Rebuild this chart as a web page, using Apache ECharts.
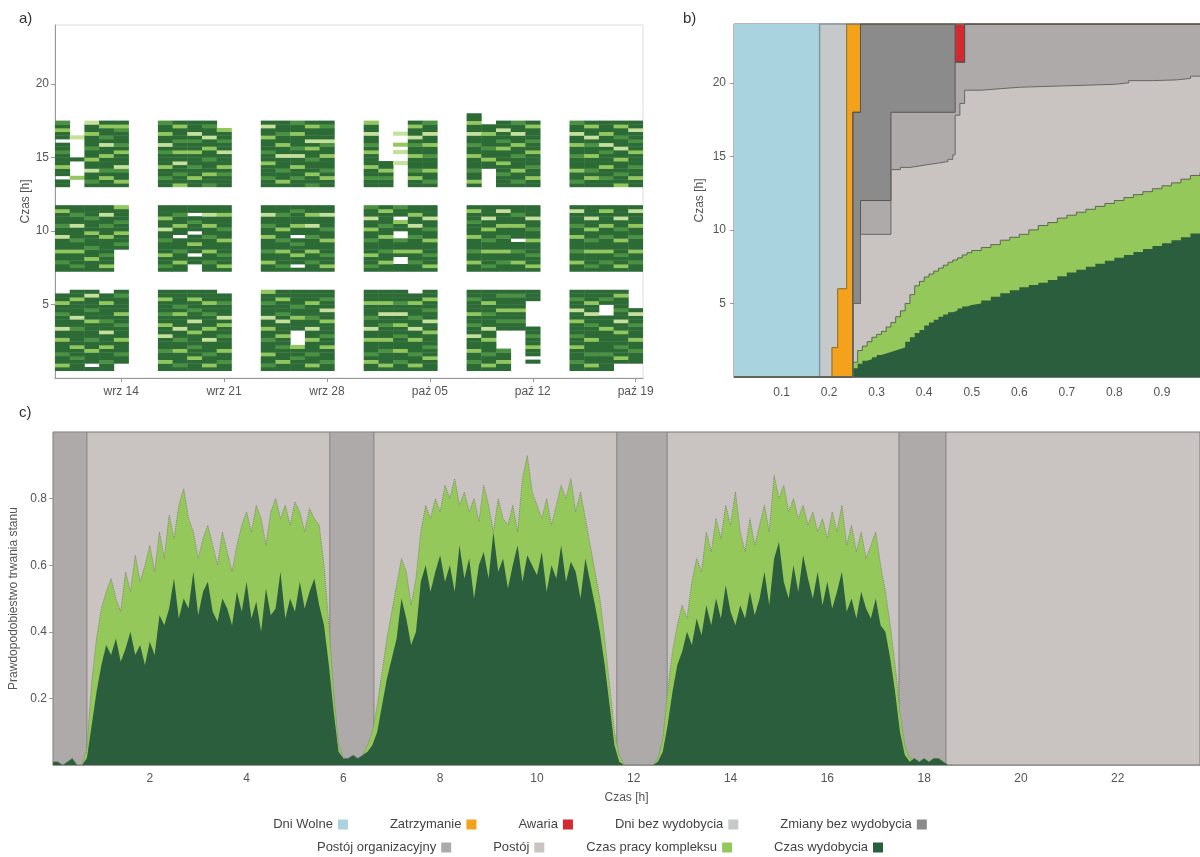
<!doctype html>
<html>
<head>
<meta charset="utf-8">
<script src="https://cdn.jsdelivr.net/npm/echarts@6/dist/echarts.min.js"></script>
<style>
  html, body { margin: 0; padding: 0; background: #fff; }
  #chart { width: 1200px; height: 857px; }
</style>
</head>
<body>
<div id="chart"></div>
<script>
  // ---------- a) harmonogram zmian: dzien (od 10 wrz) x godzina ----------
  var aDays = [0, 1, 2, 3, 4, 7, 8, 9, 10, 11, 14, 15, 16, 17, 18, 21, 22, 23, 24, 25, 28, 29, 30, 31, 32, 35, 36, 37, 38, 39];
  var aShiftStart = [0.5, 7.25, 13.0]; // poczatek kazdej zmiany [h]
  var aSlot = 0.25;                     // jeden znak = 15 min
  // D ciemny, G sredni, L jasny, P blady, . brak
  var aShift1 = [
    'DLDDGDDDLDDPDDDGDDLDD', 'DDDGDDLDDDDGDDPDDDDLDD', 'D.DDDLDDGDDDDLDDGDDDPD', 'DDGDDDLDDDPDDGDDDDLDD.', '..DDGDDDLDDDGDDLDDDDGD',
    'DDLDDGDDDPDDLDDGDDDLDD', 'DGDDDLDDGDDPDDDLDGDDDD', 'DDDLDDGDDDLDDPDDGDDLDD', 'DLDDGDDDPDDLDDDGDDLDDD', 'DDGDDLDDDGDDLDPDDDGDD.',
    'DGDDLDDDGDDLDDPDDDGDDL', 'DDLDDDGDDLDDDPDGDDDLDD', 'DDDGDDL....DDDLDDGDDDD', 'DLDDGDDDLDDPDDGDDDLDDD', 'DDGDDDLDDGDDDLDDPDDGDD',
    'DDLDGDDDLDDPDDGDDDLDDD', 'DLDDDGDDLDDDGDDPDDLDDD', 'DDGDDLDDDGDDLDDPDDGDDD', 'DLDDGDDDLDDPDDGDDDLDD.', 'DDDLDDGDDDLDDPDDGDDLDD',
    'DDGDDLDDDPDDGDDLDDDGDD', 'DLDDGDDDLDDPDDDGDDLDDD', 'DDLDDG.....DDGDDLDDDGD', '...........DDGDDLDDDGD', '..D.DDLDDGDD.......DDD',
    'DDGDDDLDDGDDDLDDPDDGDD', 'DLDDGDDDLDDDGDDPDDLDDD', 'DDDDGDDDDDDLDDD...DGDD', '..DLDDGDDDLDDPDDGDDDLD', '..DDDGDDLDDDGDDPD.....'
  ];
  var aShift2 = [
    'DDGDDLDDDPDDGDDDLD', 'DGDDDLDDGDDDPDDGDD', 'DDDLDDGDDDLDDDGDDD', 'DLDDGDDDDLDDGDDPDD', '......DGDDLDDGDDDL',
    'DGDDLDDDGDDPDDLDDD', 'DDLDDGDDD.DDLDDGDD', '..DD.DDLDD.DDGD.DD', 'DDGDDLDDDGDDLDDPDD', 'DLDDGDDDLDDGDDDLDD',
    'DDLDDGDDDLDDGDDPDD', 'DGDDDLDDGDDLDDDGDD', 'D.DDLDDGD.DDLDDDGD', 'DDGDDLDDDGDDPDDLDD', 'DLDDGDDDLDDGDDDPDD',
    'DGDDLDDDGDDLDDPDDG', 'DDLDDGDDDLDDGDDDLD', 'DD..DLDDG..DDL.DDG', 'DDGDDLDDDGDDPDDLDD', 'DLDDGDDDLDDGDDPDDD',
    'DDLDDGDDDLDDDGDDLD', 'DGDDDLDDGDDLDDPDDD', 'DDGDDLDDDGDDLDDDPD', 'DDLDDGDD.DDDLDDGDD', 'DLDDGDDDLDDGDDPDDD',
    'DDLDDGDDDLDDGDDDPD', 'DGDDDLDDGDDLDDPDDD', 'DDGDDLDDDGDDLDDDLD', 'DLDDGDDDLDDGDDPDDD', 'DDGDDLDDDGDDLDDDPD'
  ];
  var aShift3 = [
    'DD.DDLDDDGDD.DDLDG', '..L....D.....P....', 'DGDDPDDLDDGDDDLDDP', 'DDLDGDDDLDDPDGDDLD', 'DLDDGPDDDLDGDDDGLD',
    'DDGDDLDDDGDPDDLDDG', 'LDDGDDPDDLDDGDDDLD', 'DDLDDGDDDLDDGDPDDD', 'GDDLDDDGDDLDDPDDGD', 'DDDGDLDDDPDDGDDL..',
    'DDGDDDLDDGDDDLDDPD', 'DLDDGDDDPDDLDDGDDD', 'DDGDDLDDPDGDDDLDDG', 'GDDLDDDGDDLDPDDDLD', 'DDLDGDDDLDDGPDDDGD',
    'DDGDDLDDDLDGDDPDDL', 'DDGDLDD...........', '......P..P.L..P...', 'DDLDGDDDLDDGDPDDLD', 'DGDDLDDDGDDLDDPDDG',
    'DLDDGDDDLDDGDDPDDLDD', '.....DDLDDGDDDLDD.', 'DDDGDDLDDDLDGDDPDD', 'DGDDLDDDGDDLDDPDDG', 'DDLDDGDDDLDDGDDDLD',
    'DGDDLDDDGDDLDDPDDG', 'DDLDGDDDLDDGDPDDLD', 'DDGDDLDDDGDPDDLDDD', 'LDDGDDDLDDPDDGDDLD', 'DDLDDGDDDLDDGDDPDD'
  ];
  var aTickDays = [4, 11, 18, 25, 32, 39];
  var aTickLabels = ['wrz 14', 'wrz 21', 'wrz 28', 'paź 05', 'paź 12', 'paź 19'];

  // ---------- b) skumulowane godziny stanow wg udzialu dni [x, gorna granica h] ----------
  var bWolne = [[0, 24], [0.98, 24]];
  var bDniBez = [[0, 0], [0.18, 24], [0.98, 24]];
  var bZatrzymanie = [[0, 0], [0.206, 2], [0.218, 6], [0.237, 24], [0.98, 24]];
  var bAwaria = [[0, 0], [0.25, 18], [0.266, 24], [0.98, 24]];
  var bZmianyBez = [[0, 0], [0.25, 18], [0.266, 24], [0.465, 21.4], [0.485, 24], [0.98, 24]];
  var bPostojOrg = [[0, 0], [0.25, 5], [0.266, 12], [0.33, 18], [0.465, 21.4], [0.485, 24], [0.98, 24]];
  var bPostoj = [[0, 0], [0.25, 5], [0.266, 9.7], [0.33, 14.1], [0.35, 14.25], [0.37, 14.35], [0.39, 14.45],
    [0.41, 14.55], [0.43, 14.65], [0.45, 14.8], [0.46, 15.1], [0.465, 17.8], [0.475, 18.6], [0.485, 19.5],
    [0.52, 19.6], [0.56, 19.7], [0.6, 19.75], [0.65, 19.8], [0.7, 19.85], [0.75, 19.9], [0.8, 20.0],
    [0.83, 20.15], [0.88, 20.2], [0.93, 20.3], [0.96, 20.45], [0.98, 20.45]];
  var bPraca = [[0, 0], [0.25, 1.0], [0.26, 1.8], [0.27, 2.1], [0.28, 2.4], [0.29, 2.7], [0.30, 2.9], [0.31, 3.1],
    [0.32, 3.4], [0.33, 3.7], [0.34, 4.1], [0.35, 4.5], [0.36, 5.0], [0.37, 5.6], [0.38, 6.2], [0.39, 6.5],
    [0.40, 6.8], [0.41, 7.0], [0.42, 7.2], [0.43, 7.4], [0.44, 7.6], [0.45, 7.8], [0.46, 7.95], [0.47, 8.1],
    [0.48, 8.3], [0.49, 8.45], [0.50, 8.6], [0.52, 8.8], [0.54, 9.0], [0.56, 9.3], [0.58, 9.5], [0.60, 9.7],
    [0.62, 10.0], [0.64, 10.3], [0.66, 10.5], [0.68, 10.8], [0.70, 11.0], [0.72, 11.2], [0.74, 11.4],
    [0.76, 11.6], [0.78, 11.8], [0.80, 12.0], [0.82, 12.2], [0.84, 12.4], [0.86, 12.6], [0.88, 12.8],
    [0.90, 13.0], [0.92, 13.2], [0.94, 13.45], [0.96, 13.7], [0.98, 13.9]];
  var bWydobycie = [[0, 0], [0.25, 0.6], [0.26, 0.9], [0.27, 1.1], [0.28, 1.2], [0.29, 1.35], [0.30, 1.5],
    [0.31, 1.6], [0.32, 1.7], [0.33, 1.8], [0.34, 1.9], [0.35, 2.0], [0.36, 2.4], [0.37, 2.7], [0.38, 3.0],
    [0.39, 3.2], [0.40, 3.5], [0.41, 3.7], [0.42, 3.9], [0.43, 4.1], [0.44, 4.25], [0.45, 4.4], [0.46, 4.5],
    [0.47, 4.65], [0.48, 4.8], [0.49, 4.9], [0.50, 5.0], [0.52, 5.2], [0.54, 5.45], [0.56, 5.7], [0.58, 5.9],
    [0.60, 6.1], [0.62, 6.25], [0.64, 6.4], [0.66, 6.6], [0.68, 6.85], [0.70, 7.1], [0.72, 7.3], [0.74, 7.5],
    [0.76, 7.7], [0.78, 7.9], [0.80, 8.1], [0.82, 8.3], [0.84, 8.5], [0.86, 8.7], [0.88, 8.9], [0.90, 9.1],
    [0.92, 9.3], [0.94, 9.5], [0.96, 9.75], [0.98, 10.0]];

  // ---------- c) prawdopodobienstwo stanu wg godziny doby (co 0.1 h od 0.0) ----------
  var cStep = 0.1;
  var cWydobycie = [
    0.01, 0.01, 0.0, 0.01, 0.02, 0.0,
    0.0, 0.02, 0.12, 0.22, 0.30, 0.36, 0.33, 0.38, 0.31, 0.35, 0.40, 0.33, 0.36, 0.30,
    0.37, 0.33, 0.45, 0.42, 0.47, 0.56, 0.44, 0.50, 0.47, 0.58,
    0.45, 0.52, 0.55, 0.46, 0.43, 0.50, 0.47, 0.42, 0.52, 0.46,
    0.55, 0.44, 0.49, 0.40, 0.53, 0.45, 0.47, 0.58, 0.44, 0.50,
    0.46, 0.55, 0.47, 0.52, 0.56, 0.48, 0.42, 0.30, 0.16, 0.04,
    0.02, 0.02, 0.03, 0.02, 0.03, 0.04, 0.06, 0.10, 0.18, 0.26,
    0.32, 0.38, 0.50, 0.44, 0.36, 0.40, 0.55, 0.60, 0.52, 0.58,
    0.63, 0.55, 0.60, 0.52, 0.66, 0.56, 0.62, 0.50, 0.60, 0.64,
    0.56, 0.70, 0.58, 0.62, 0.53, 0.60, 0.66, 0.55, 0.63, 0.60,
    0.57, 0.64, 0.52, 0.60, 0.56, 0.66, 0.55, 0.61, 0.58, 0.50,
    0.62, 0.55, 0.48, 0.40, 0.30, 0.18, 0.06, 0.01, 0.0, 0.0,
    0.0, 0.0, 0.0, 0.0, 0.0, 0.01, 0.04, 0.12, 0.22, 0.30,
    0.34, 0.40, 0.36, 0.44, 0.39, 0.48, 0.42, 0.50, 0.44, 0.54,
    0.46, 0.42, 0.48, 0.44, 0.52, 0.45, 0.50, 0.58, 0.48, 0.62,
    0.67, 0.55, 0.50, 0.60, 0.52, 0.63, 0.56, 0.50, 0.58, 0.48,
    0.55, 0.47, 0.52, 0.58, 0.46, 0.50, 0.44, 0.52, 0.47, 0.44,
    0.50, 0.42, 0.40, 0.32, 0.22, 0.10, 0.03, 0.01, 0.02, 0.01,
    0.02, 0.01, 0.02, 0.02, 0.01, 0.0, 0.0
  ];
  var cPraca = [
    0.01, 0.01, 0.0, 0.01, 0.02, 0.0,
    0.0, 0.05, 0.25, 0.38, 0.47, 0.52, 0.56, 0.50, 0.46, 0.58, 0.52, 0.63, 0.55, 0.60,
    0.66, 0.58, 0.70, 0.62, 0.75, 0.68, 0.78, 0.83, 0.74, 0.70,
    0.62, 0.68, 0.72, 0.66, 0.60, 0.70, 0.64, 0.58, 0.66, 0.72,
    0.76, 0.70, 0.78, 0.74, 0.66, 0.76, 0.80, 0.74, 0.78, 0.72,
    0.79, 0.76, 0.70, 0.77, 0.74, 0.72, 0.60, 0.42, 0.22, 0.06,
    0.02, 0.02, 0.03, 0.02, 0.03, 0.06, 0.10, 0.18, 0.28, 0.38,
    0.46, 0.54, 0.62, 0.58, 0.48, 0.56, 0.70, 0.78, 0.74, 0.80,
    0.76, 0.84, 0.80, 0.86, 0.78, 0.82, 0.76, 0.80, 0.73, 0.84,
    0.78, 0.70, 0.80, 0.74, 0.72, 0.78, 0.70, 0.86, 0.93, 0.82,
    0.78, 0.74, 0.80, 0.72, 0.78, 0.84, 0.80, 0.86, 0.76, 0.82,
    0.74, 0.66, 0.58, 0.50, 0.38, 0.24, 0.10, 0.03, 0.0, 0.0,
    0.0, 0.0, 0.0, 0.0, 0.0, 0.02, 0.08, 0.22, 0.34, 0.42,
    0.48, 0.44, 0.55, 0.62, 0.58, 0.70, 0.64, 0.74, 0.68, 0.78,
    0.72, 0.82, 0.70, 0.64, 0.74, 0.66, 0.72, 0.78, 0.70, 0.87,
    0.80, 0.84, 0.76, 0.80, 0.74, 0.78, 0.72, 0.76, 0.70, 0.74,
    0.68, 0.76, 0.70, 0.78, 0.66, 0.72, 0.64, 0.70, 0.62, 0.66,
    0.70, 0.60, 0.52, 0.42, 0.30, 0.16, 0.06, 0.02, 0.02, 0.01,
    0.02, 0.01, 0.02, 0.02, 0.01, 0.0, 0.0
  ];
  var cBandStart = [0, 5.72, 11.65, 17.48];   // przerwy miedzy zmianami
  var cBandEnd = [0.7, 6.63, 12.69, 18.45];

  // ---------- kolory ----------
  var aColors = ['#2c6b35', '#4a9142', '#92c75e', '#c4e09a'];
  var aCodes = 'DGLP';
  var colWolne = '#a9d4df', colDniBez = '#c6c9ca', colZatrz = '#f4a21c', colAwaria = '#d42a2f',
    colZmiany = '#8b8b8b', colPostojOrg = '#aeaaaa', colPostoj = '#c9c3c2',
    colPraca = '#95c85a', colWydob = '#2b5e3c';
  var font = 'Liberation Sans, Arial, sans-serif';

  // kafelki panelu a)
  var aData = [];
  aDays.forEach(function (day, k) {
    [aShift1[k], aShift2[k], aShift3[k]].forEach(function (str, s) {
      for (var j = 0; j < str.length; j++) {
        var idx = aCodes.indexOf(str.charAt(j));
        if (idx < 0) continue;
        var y0 = aShiftStart[s] + j * aSlot;
        aData.push([day, y0, y0 + aSlot, idx]);
      }
    });
  });

  var cWydobData = cWydobycie.map(function (v, i) { return [+(i * cStep).toFixed(1), v]; });
  var cPracaData = cPraca.map(function (v, i) { return [+(i * cStep).toFixed(1), v]; });
  var cBands = cBandStart.map(function (s, i) { return [s, cBandEnd[i]]; });

  function renderTile(params, api) {
    var p0 = api.coord([api.value(0) - 0.5, api.value(2)]);
    var p1 = api.coord([api.value(0) + 0.5, api.value(1)]);
    return {
      type: 'rect',
      shape: { x: p0[0], y: p0[1], width: p1[0] - p0[0] + 0.4, height: p1[1] - p0[1] + 0.4 },
      style: { fill: aColors[api.value(3)] }
    };
  }
  function renderBand(params, api) {
    var p0 = api.coord([api.value(0), 1]);
    var p1 = api.coord([api.value(1), 0]);
    return {
      type: 'rect',
      shape: { x: p0[0], y: p0[1], width: p1[0] - p0[0], height: p1[1] - p0[1] },
      style: { fill: colPostojOrg, stroke: '#858181', lineWidth: 1 }
    };
  }

  function axisLabel(extra) {
    var o = { color: '#555', fontSize: 12, fontFamily: font, showMinLabel: false, showMaxLabel: false };
    for (var k in extra) o[k] = extra[k];
    return o;
  }
  var axisLineGray = { show: true, onZero: false, lineStyle: { color: '#999', width: 1 } };
  var tickGray = { show: true, length: 4, lineStyle: { color: '#999' } };
  var nameStyle = { color: '#555', fontSize: 12, fontFamily: font };

  function bSeries(name, data, color, line) {
    return {
      name: name, type: 'line', xAxisIndex: 1, yAxisIndex: 1, step: 'end', data: data,
      symbol: 'none', showSymbol: false, silent: true,
      itemStyle: { color: color },
      lineStyle: line || { width: 0 },
      areaStyle: { color: color, opacity: 1 }
    };
  }
  function legendRow(names, top) {
    return {
      data: names, left: 'center', top: top, align: 'right', icon: 'rect',
      itemWidth: 10, itemHeight: 10, itemGap: 42, selectedMode: false,
      itemStyle: { borderWidth: 0 },
      textStyle: { color: '#444', fontSize: 13, fontFamily: font }
    };
  }

  var chart = echarts.init(document.getElementById('chart'));
  var option = {
    animation: false,
    backgroundColor: '#fff',
    title: [
      { text: 'a)', left: 14, top: 6, textStyle: { fontSize: 15, fontWeight: 'normal', color: '#333', fontFamily: font } },
      { text: 'b)', left: 678, top: 6, textStyle: { fontSize: 15, fontWeight: 'normal', color: '#333', fontFamily: font } },
      { text: 'c)', left: 14, top: 400, textStyle: { fontSize: 15, fontWeight: 'normal', color: '#333', fontFamily: font } }
    ],
    legend: [
      legendRow(['Dni Wolne', 'Zatrzymanie', 'Awaria', 'Dni bez wydobycia', 'Zmiany bez wydobycia'], 813),
      legendRow(['Postój organizacyjny', 'Postój', 'Czas pracy kompleksu', 'Czas wydobycia'], 836)
    ],
    grid: [
      { left: 55, top: 25, width: 588, height: 353, show: true, borderColor: '#ddd', borderWidth: 1, backgroundColor: '#fff', outerBoundsMode: 'none' },
      { left: 734, top: 24, width: 466, height: 353, show: true, borderColor: '#6f6f6f', borderWidth: 1, outerBoundsMode: 'none' },
      { left: 53, top: 432, width: 1147, height: 333, show: true, borderColor: '#777', borderWidth: 1, backgroundColor: colPostoj, outerBoundsMode: 'none' }
    ],
    xAxis: [
      {
        gridIndex: 0, type: 'value', min: -0.5, max: 39.5,
        axisLine: axisLineGray, axisTick: { show: true, length: 4, lineStyle: { color: '#999' }, customValues: aTickDays },
        splitLine: { show: false },
        axisLabel: {
          color: '#555', fontSize: 12, fontFamily: font, customValues: aTickDays, margin: 8,
          formatter: function (v) { var i = aTickDays.indexOf(Math.round(v)); return i >= 0 ? aTickLabels[i] : ''; }
        }
      },
      {
        gridIndex: 1, type: 'value', min: 0, max: 0.98, interval: 0.1,
        axisLine: { show: true, onZero: false, lineStyle: { color: '#777' } }, axisTick: { show: false }, splitLine: { show: false },
        axisLabel: axisLabel({ margin: 10, formatter: function (v) { return v.toFixed(1); } })
      },
      {
        gridIndex: 2, type: 'value', min: 0, max: 23.7, interval: 2,
        name: 'Czas [h]', nameLocation: 'middle', nameGap: 27, nameTextStyle: nameStyle,
        axisLine: axisLineGray, axisTick: { show: false }, splitLine: { show: false },
        axisLabel: axisLabel({ margin: 8 })
      }
    ],
    yAxis: [
      {
        gridIndex: 0, type: 'value', min: 0, max: 24, interval: 5,
        name: 'Czas [h]', nameLocation: 'middle', nameGap: 22, nameTextStyle: nameStyle,
        axisLine: axisLineGray, axisTick: tickGray, splitLine: { show: false },
        axisLabel: axisLabel({ margin: 6 })
      },
      {
        gridIndex: 1, type: 'value', min: 0, max: 24, interval: 5,
        name: 'Czas [h]', nameLocation: 'middle', nameGap: 28, nameTextStyle: nameStyle,
        axisLine: { show: false, onZero: false }, axisTick: tickGray, splitLine: { show: false },
        axisLabel: axisLabel({ margin: 8 })
      },
      {
        gridIndex: 2, type: 'value', min: 0, max: 1, interval: 0.2,
        name: 'Prawdopodobiestwo trwania stanu', nameLocation: 'middle', nameGap: 29, nameTextStyle: nameStyle,
        axisLine: { show: false, onZero: false }, axisTick: tickGray, splitLine: { show: false },
        axisLabel: axisLabel({ margin: 6, formatter: function (v) { return v.toFixed(1); } })
      }
    ],
    series: [
      {
        type: 'custom', xAxisIndex: 0, yAxisIndex: 0, data: aData, renderItem: renderTile,
        encode: { x: 0, y: [1, 2] }, silent: true, clip: true
      },
      bSeries('Dni Wolne', bWolne, colWolne),
      bSeries('Dni bez wydobycia', bDniBez, colDniBez, { width: 1.5, color: '#7d97a3' }),
      bSeries('Zatrzymanie', bZatrzymanie, colZatrz, { width: 1, color: '#8a6a2a' }),
      bSeries('Awaria', bAwaria, colAwaria, { width: 1, color: '#6b5a3a' }),
      bSeries('Zmiany bez wydobycia', bZmianyBez, colZmiany, { width: 1, color: '#555' }),
      bSeries('Postój organizacyjny', bPostojOrg, colPostojOrg, { width: 1, color: '#555' }),
      bSeries('Postój', bPostoj, colPostoj, { width: 1, color: '#666' }),
      bSeries('Czas pracy kompleksu', bPraca, colPraca, { width: 1, color: '#5a6a50' }),
      bSeries('Czas wydobycia', bWydobycie, colWydob),
      {
        type: 'custom', xAxisIndex: 2, yAxisIndex: 2, data: cBands, renderItem: renderBand,
        encode: { x: [0, 1] }, silent: true, clip: true
      },
      {
        name: 'Czas pracy kompleksu', type: 'line', xAxisIndex: 2, yAxisIndex: 2, data: cPracaData,
        symbol: 'none', showSymbol: false, silent: true, itemStyle: { color: colPraca },
        lineStyle: { width: 1, color: '#7d8a6c', type: 'dotted' },
        areaStyle: { color: colPraca, opacity: 1 }
      },
      {
        name: 'Czas wydobycia', type: 'line', xAxisIndex: 2, yAxisIndex: 2, data: cWydobData,
        symbol: 'none', showSymbol: false, silent: true, itemStyle: { color: colWydob },
        lineStyle: { width: 0 },
        areaStyle: { color: colWydob, opacity: 1 }
      }
    ]
  };
  chart.setOption(option);
</script>
</body>
</html>
